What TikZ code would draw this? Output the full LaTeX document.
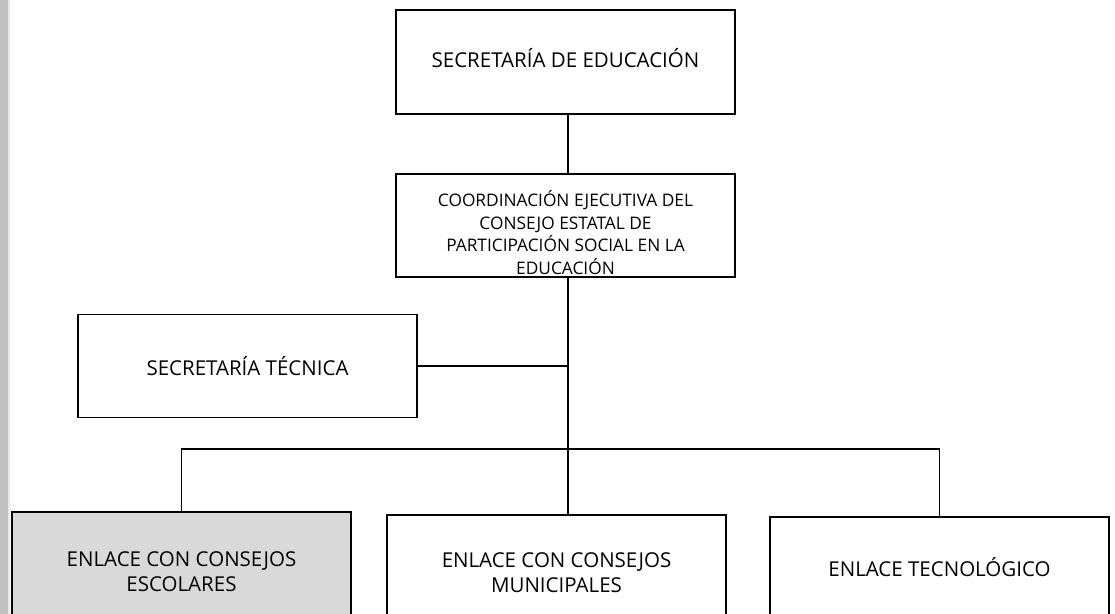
\documentclass[tikz,border=0pt]{standalone}
\usepackage{fontspec}
\setmainfont{Open Sans}
\usetikzlibrary{calc}
\begin{document}
\begin{tikzpicture}[x = 1bp, y = -1bp, line width = 1.5bp,
  cargo/.style = {draw, minimum width = 339bp, align = center, inner sep = 0pt,
    font = \fontsize{20.5bp}{25bp}\selectfont}]
  \clip (0, 0) rectangle (1115, 614);
  \useasboundingbox (0, 0) rectangle (1115, 614);

  \definecolor{lightGray}{HTML}{d9d9d9};
  \definecolor{stripGray}{HTML}{c0c0c0};
  \fill[stripGray] (0, 0) rectangle (8, 614);
  \fill[lightGray!60] (8, 0) rectangle (10, 614);

  \node[cargo, minimum height = 104bp, text depth = 8bp] (sed) at (565.5, 62) {SECRETARÍA DE EDUCACIÓN};
  \node[cargo, minimum height = 103bp, font = \fontsize{17.3bp}{22.5bp}\selectfont] (coord) at (565.5, 225.5)
    {\rule{0pt}{30bp}COORDINACIÓN EJECUTIVA DEL\\CONSEJO ESTATAL DE\\PARTICIPACIÓN SOCIAL EN LA\\EDUCACIÓN};
  \node[cargo, minimum height = 103bp] (stec) at (247.5, 366) {SECRETARÍA TÉCNICA};

  \node[cargo, fill = lightGray, minimum height = 120bp] (enlesc) at (181.5, 572)
    {ENLACE CON CONSEJOS\\ESCOLARES};
  \node[cargo, minimum height = 116bp] (enlmun) at (556.5, 573)
    {ENLACE CON CONSEJOS\\MUNICIPALES};
  \node[cargo, minimum height = 101bp] (enltec) at (939.5, 567.5) {ENLACE TECNOLÓGICO};

  \coordinate (trunk) at (568, 0);
  \coordinate (bus) at (568, 449);

  \draw (sed.south -| trunk) -- (coord.north -| trunk);
  \draw (coord.south -| trunk) -- (enlmun.north -| trunk);
  \draw (stec.east) -- (stec.east -| trunk);
  \draw (enlesc.north) |- (bus) -| (enltec.north);
\end{tikzpicture}
\end{document}
